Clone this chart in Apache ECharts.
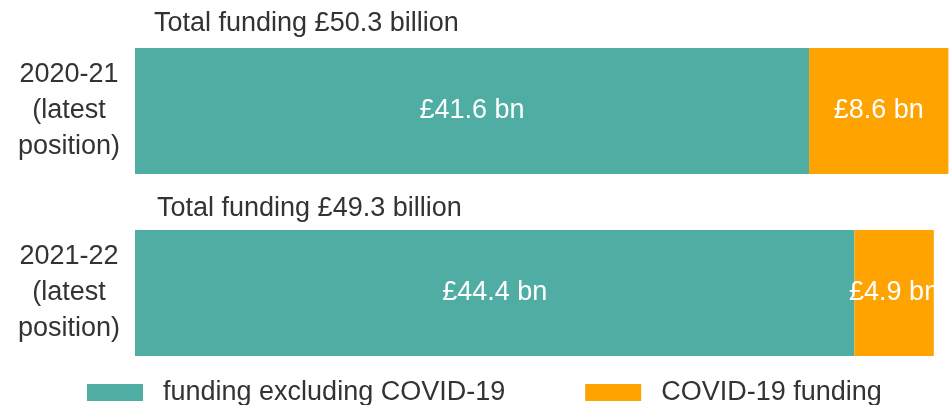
<!DOCTYPE html>
<html>
<head>
<meta charset="utf-8">
<script src="https://cdn.jsdelivr.net/npm/echarts@6/dist/echarts.min.js"></script>
<style>
  html, body { margin: 0; padding: 0; background: #fff; }
  #chart { width: 950px; height: 405px; }
</style>
</head>
<body>
<div id="chart"></div>
<script>
  const years = ['2020-21\n(latest\nposition)', '2021-22\n(latest\nposition)'];
  const excludingCovid = [41.6, 44.4];
  const covidFunding = [8.6, 4.9];
  const totals = [50.3, 49.3];

  const teal = '#50ADA4';
  const orange = '#FFA300';
  const textColor = '#333';
  const font = 'Liberation Sans';
  const fs = 27;

  const chart = echarts.init(document.getElementById('chart'));
  chart.setOption({
    animation: false,
    textStyle: { fontFamily: font },
    title: totals.map((t, i) => ({
      text: `Total funding £${t.toFixed(1)} billion`,
      left: i === 0 ? 154 : 157,
      top: i === 0 ? 10 : 195,
      padding: 0,
      textStyle: { fontSize: fs, fontWeight: 'normal', color: textColor, fontFamily: font }
    })),
    legend: {
      left: 87,
      top: 379,
      padding: 0,
      itemWidth: 56,
      itemHeight: 17,
      itemGap: 80,
      icon: 'rect',
      textStyle: { fontSize: fs, color: textColor, padding: [0, 0, 0, 15], fontFamily: font },
      data: ['funding excluding COVID-19', 'COVID-19 funding']
    },
    grid: {
      left: 135,
      right: 0,
      top: 20,
      height: 364
    },
    xAxis: {
      type: 'value',
      min: 0,
      max: totals[0],
      show: false
    },
    yAxis: {
      type: 'category',
      inverse: true,
      data: years,
      axisLine: { show: false },
      axisTick: { show: false },
      axisLabel: {
        align: 'center',
        margin: 66,
        fontSize: fs,
        lineHeight: 36,
        color: textColor,
        fontFamily: font
      }
    },
    series: [
      {
        name: 'funding excluding COVID-19',
        type: 'bar',
        stack: 'total',
        barWidth: 126,
        itemStyle: { color: teal },
        label: {
          show: true,
          position: 'inside',
          color: '#fff',
          fontSize: fs,
          fontFamily: font,
          formatter: (p) => `£${p.value.toFixed(1)} bn`
        },
        data: excludingCovid
      },
      {
        name: 'COVID-19 funding',
        type: 'bar',
        stack: 'total',
        barWidth: 126,
        itemStyle: { color: orange },
        label: {
          show: true,
          position: 'inside',
          color: '#fff',
          fontSize: fs,
          fontFamily: font,
          formatter: (p) => `£${p.value.toFixed(1)} bn`
        },
        data: covidFunding
      }
    ]
  });
</script>
</body>
</html>
